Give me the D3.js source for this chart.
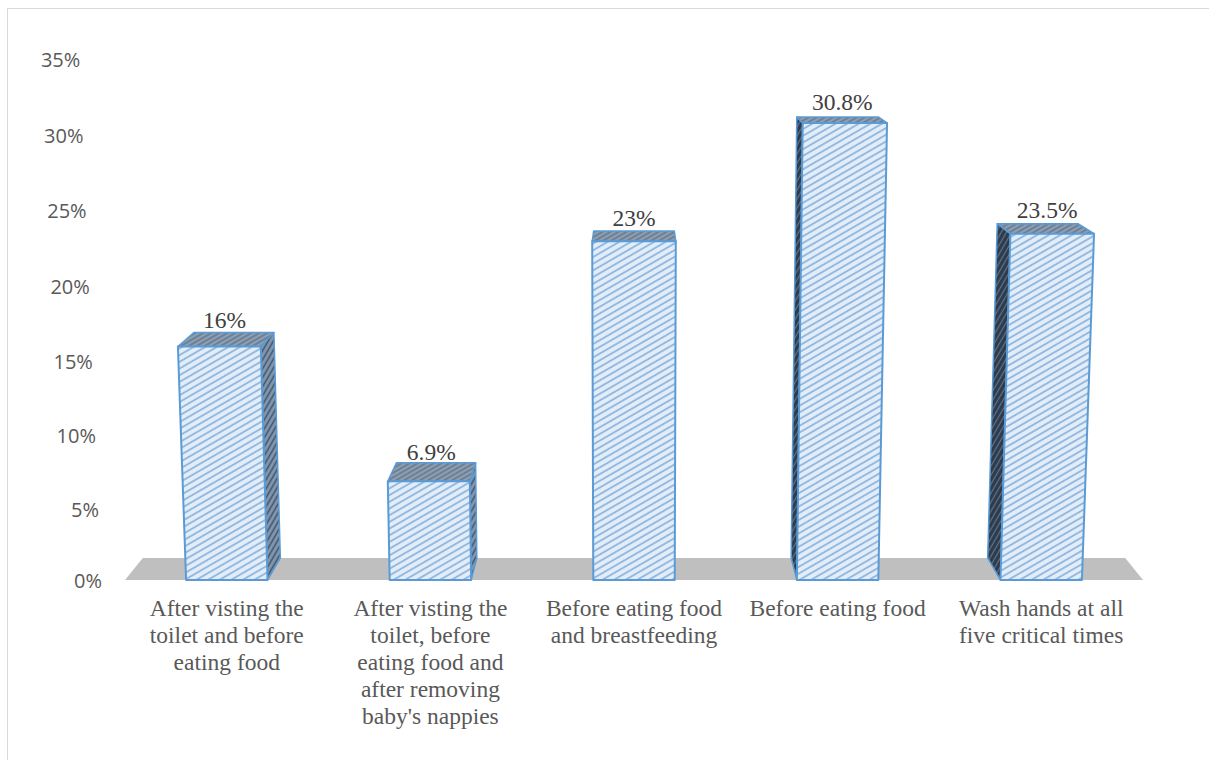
<!DOCTYPE html>
<html>
<head>
<meta charset="utf-8">
<script src="https://cdn.jsdelivr.net/npm/d3@7"></script>
<style>
  html, body { margin: 0; padding: 0; background: #ffffff; }
  svg { display: block; }
</style>
</head>
<body>
<svg id="chart" width="1209" height="760"></svg>
<script>
// ---------------- data ----------------
const categoryLines = [
  ["After visting the", "toilet and before", "eating food"],
  ["After visting the", "toilet, before", "eating food and", "after removing", "baby's nappies"],
  ["Before eating food", "and breastfeeding"],
  ["Before eating food"],
  ["Wash hands at all", "five critical times"]
];
const categories = categoryLines.map(l => l.join(" "));
const values = [16, 6.9, 23, 30.8, 23.5];
const valueLabels = ["16%", "6.9%", "23%", "30.8%", "23.5%"];
const yTicks = [0, 5, 10, 15, 20, 25, 30, 35];

// ---------------- layout ----------------
const svg = d3.select("#chart");
const W = 1209, H = 760;
const BASE = 580;          // front baseline (screen y)
const XC = 634;            // horizontal vanishing x
const YV = -49;            // horizon (depth vanishing y)
const DEPTH = 0.035;       // fraction of distance toward vanishing point for full depth
const YB = 13370;          // vertical vanishing y (camera tilt)

const x = d3.scaleBand().domain(categories).range([125, 1143])
  .paddingInner(0.6).paddingOuter(0.3);
const y = d3.scalePow().exponent(1.025).domain([0, 35]).range([BASE, 59]);

function proj(u, v, d) {
  const y0 = y(v);
  const s = (YB - y0) / (YB - BASE);
  const x0 = XC + (u - XC) * s;
  return [x0 + (XC - x0) * DEPTH * d, y0 + (YV - y0) * DEPTH * d];
}
const poly = pts => "M" + pts.map(p => p.join(",")).join("L") + "Z";

// chart frame (only left/top edges visible)
svg.append("rect").attr("x", 7.5).attr("y", 8.5).attr("width", W).attr("height", H)
  .attr("fill", "#ffffff").attr("stroke", "#d9d9d9").attr("stroke-width", 1);

// ---------------- patterns ----------------
const defs = svg.append("defs");
function hatch(id, bg, fg, sw, gap, angle) {
  const p = defs.append("pattern").attr("id", id)
    .attr("patternUnits", "userSpaceOnUse")
    .attr("width", 10).attr("height", gap)
    .attr("patternTransform", `rotate(${angle})`);
  p.append("rect").attr("width", 10).attr("height", gap).attr("fill", bg);
  p.append("line").attr("x1", 0).attr("x2", 10).attr("y1", gap / 2).attr("y2", gap / 2)
    .attr("stroke", fg).attr("stroke-width", sw);
}
hatch("frontPat", "#e2edf9", "#78a7d6", 1.4, 5.8, -30);
hatch("topPat", "#8d9fb2", "#5f7389", 1.4, 4, -30);
hatch("rightPat", "#8198b0", "#3f5268", 1.5, 4.5, -60);
hatch("leftPat", "#2e3a48", "#5a7596", 1.2, 4.5, -60);

// ---------------- floor ----------------
const [r0, r1] = x.range();
svg.append("path")
  .attr("d", poly([proj(r0, 0, 0), proj(r1, 0, 0), proj(r1, 0, 1), proj(r0, 0, 1)]))
  .attr("fill", "#bfbfbf");

// ---------------- y axis labels ----------------
const AXU = 102;
svg.append("g").selectAll("text").data(yTicks).join("text")
  .attr("x", d => proj(AXU, d, 0)[0])
  .attr("y", d => proj(AXU, d, 0)[1])
  .attr("text-anchor", "end")
  .attr("dominant-baseline", "central")
  .attr("font-family", "'Open Sans', 'Noto Sans', sans-serif")
  .attr("font-size", 20)
  .attr("fill", "#595959")
  .text(d => d + "%");

// ---------------- bars ----------------
const stroke = "#5b9bd5";
const bars = svg.append("g").selectAll("g").data(categories).join("g");
bars.each(function (c, i) {
  const g = d3.select(this);
  const u0 = x(c), u1 = x(c) + x.bandwidth(), v = values[i];
  // side faces
  if (u1 < XC - 20) {
    g.append("path").attr("d", poly([proj(u1, 0, 0), proj(u1, 0, 1), proj(u1, v, 1), proj(u1, v, 0)]))
      .attr("fill", "url(#rightPat)").attr("stroke", stroke).attr("stroke-width", 1.5)
      .attr("stroke-linejoin", "round");
  }
  if (u0 > XC + 20) {
    g.append("path").attr("d", poly([proj(u0, 0, 0), proj(u0, 0, 1), proj(u0, v, 1), proj(u0, v, 0)]))
      .attr("fill", "url(#leftPat)").attr("stroke", stroke).attr("stroke-width", 1.5)
      .attr("stroke-linejoin", "round");
  }
  // top face
  g.append("path").attr("d", poly([proj(u0, v, 0), proj(u1, v, 0), proj(u1, v, 1), proj(u0, v, 1)]))
    .attr("fill", "url(#topPat)").attr("stroke", stroke).attr("stroke-width", 1.5)
    .attr("stroke-linejoin", "round");
  // front face
  g.append("path").attr("d", poly([proj(u0, 0, 0), proj(u1, 0, 0), proj(u1, v, 0), proj(u0, v, 0)]))
    .attr("fill", "url(#frontPat)").attr("stroke", stroke).attr("stroke-width", 2)
    .attr("stroke-linejoin", "round");
  // value label
  const mid = proj((u0 + u1) / 2, v, 0.35);
  const back = proj((u0 + u1) / 2, v, 1);
  g.append("text")
    .attr("x", mid[0]).attr("y", back[1] - 2 - (BASE - back[1]) * 0.01)
    .attr("text-anchor", "middle")
    .attr("font-family", "'Liberation Serif', 'Times New Roman', serif")
    .attr("font-size", 23.5)
    .attr("fill", "#404040")
    .text(valueLabels[i]);
});

// ---------------- category labels ----------------
const xl = svg.append("g").selectAll("text").data(categories).join("text")
  .attr("text-anchor", "middle")
  .attr("font-family", "'Liberation Serif', 'Times New Roman', serif")
  .attr("font-size", 23.5)
  .attr("fill", "#595959");
xl.each(function (c, i) {
  const t = d3.select(this);
  const cx = x(c) + x.bandwidth() / 2;
  categoryLines[i].forEach((line, k) => {
    t.append("tspan").attr("x", cx).attr("y", 616 + k * 27).text(line);
  });
});
</script>
</body>
</html>
